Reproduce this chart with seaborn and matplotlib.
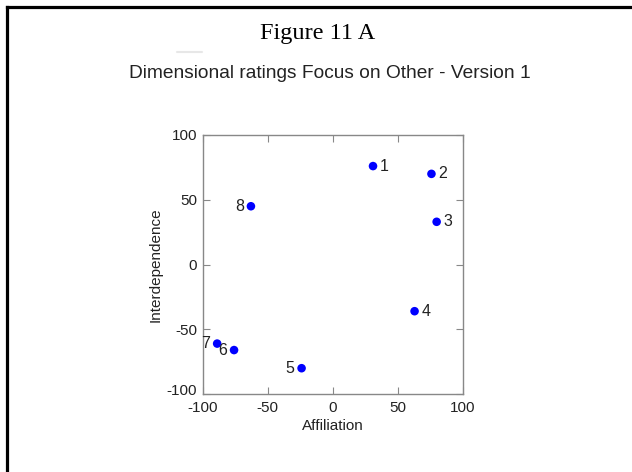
import numpy as np
import pandas as pd
import matplotlib
matplotlib.use("Agg")
import matplotlib.pyplot as plt
from matplotlib.lines import Line2D
import matplotlib.transforms as mtransforms
import seaborn as sns

# values
labels = ['1', '2', '3', '4', '5', '6', '7', '8']
affiliation = [31, 76, 80, 63, -24, -76, -89, -63]
interdependence = [76, 70, 33, -36, -80, -66, -61, 45]
label_side = ['right', 'right', 'right', 'right', 'left', 'left', 'left', 'left']

df = pd.DataFrame({'Affiliation': affiliation,
                   'Interdependence': interdependence,
                   'label': labels,
                   'side': label_side})

sns.set_style('ticks')
plt.rcParams['font.family'] = ['Liberation Sans', 'DejaVu Sans']
plt.rcParams['axes.unicode_minus'] = False

fig = plt.figure(figsize=(6.32, 4.72), dpi=100)
ax = fig.add_axes([0.321, 0.165, 0.411, 0.549])

sns.scatterplot(data=df, x='Affiliation', y='Interdependence', ax=ax,
                color='#0000ff', s=38, edgecolor='none', legend=False)

for _, r in df.iterrows():
    if r['side'] == 'right':
        ax.annotate(r['label'], (r['Affiliation'], r['Interdependence']),
                    xytext=(5, 0), textcoords='offset points',
                    ha='left', va='center', fontsize=11.5, color='#222222')
    else:
        ax.annotate(r['label'], (r['Affiliation'], r['Interdependence']),
                    xytext=(-5, 0), textcoords='offset points',
                    ha='right', va='center', fontsize=11.5, color='#222222')

ax.set_xlim(-100, 100)
ax.set_ylim(-100, 100)
ax.set_xticks([-100, -50, 0, 50, 100])
ax.set_yticks([-100, -50, 0, 50, 100])
ax.tick_params(direction='in', length=5, width=0.8, color='#888888',
               labelsize=11, labelcolor='#222222', top=True, right=True)
ax.tick_params(axis='x', pad=5)
ax.tick_params(axis='y', pad=4)
for sp in ax.spines.values():
    sp.set_color('#888888')
    sp.set_linewidth(1.0)
ax.set_xlabel('Affiliation', fontsize=11, color='#222222', labelpad=3)
ax.set_ylabel('Interdependence', fontsize=11, color='#222222', labelpad=3)

# nudge the bottom y tick label up a little, as in the reference
fig.canvas.draw()
ylab0 = ax.get_yticklabels()[0]
ylab0.set_transform(ylab0.get_transform() +
                    mtransforms.ScaledTranslation(0, 3 / 72, fig.dpi_scale_trans))

fig.text(0.502, 0.93, 'Figure 11 A', ha='center', va='center',
         fontsize=17.5, family='Liberation Serif', color='black')
fig.text(0.522, 0.845, 'Dimensional ratings Focus on Other - Version 1',
         ha='center', va='center', fontsize=13.8, color='#222222')

# page frame (top and left edges)
fig.add_artist(Line2D([0.0115, 1.0], [0.9845, 0.9845], transform=fig.transFigure,
                      color='black', lw=2.3, solid_capstyle='projecting'))
fig.add_artist(Line2D([0.0115, 0.0115], [0.0, 0.9845], transform=fig.transFigure,
                      color='black', lw=2.3, solid_capstyle='projecting'))
# faint smudge near the title
fig.add_artist(Line2D([0.28, 0.32], [0.89, 0.89], transform=fig.transFigure,
                      color='#dddddd', lw=1.5, alpha=0.7))

fig.savefig('out.png', dpi=100, facecolor='white')
